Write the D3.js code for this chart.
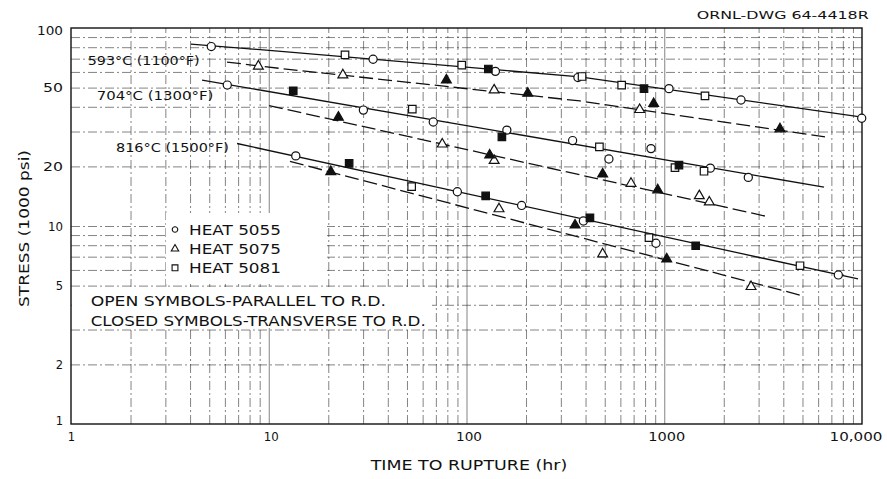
<!DOCTYPE html>
<html><head><meta charset="utf-8">
<script src="https://cdn.jsdelivr.net/npm/d3@7"></script>
<style>body{margin:0;background:#fff}svg{display:block}</style>
</head><body><svg id="c" width="887" height="479"></svg>
<script>
// ---------- data ----------
const xTickValues = [1, 10, 100, 1000, 10000];
const xTickLabels = ["1", "10", "100", "1000", "10,000"];
const yTickValues = [1, 2, 5, 10, 20, 50, 100];
const yTickLabels = ["1", "2", "5", "10", "20", "50", "100"];
const curveLabels = ["593°C (1100°F)", "704°C (1300°F)", "816°C (1500°F)"];
const heatNames = ["HEAT 5055", "HEAT 5075", "HEAT 5081"];
const notes = ["OPEN SYMBOLS-PARALLEL TO R.D.", "CLOSED SYMBOLS-TRANSVERSE TO R.D."];
const drawingId = "ORNL-DWG 64-4418R";
const xTitle = "TIME TO RUPTURE (hr)";
const yTitle = "STRESS (1000 psi)";

// fitted curves [hours, stress ksi]
const line593Solid = [[4.04, 83.0], [12.8, 75.6], [375, 56.6], [10000, 35.5]];
const line593Dashed = [[6.15, 67.3], [11.4, 62.5], [375, 42.8], [6500, 28.2]];
const line704Solid = [[4.60, 54.6], [6424, 15.7]];
const line704Dashed = [[10.03, 40.6], [3270, 11.2]];
const line816Solid = [[6.91, 26.1], [9546, 5.40]];
const line816Dashed = [[12.8, 21.2], [4973, 4.45]];

// data points [hours, stress ksi]
const heat5055Open = [[5.12,80.6],[33.7,69.5],[140,60.4],[366,56.2],[1057,49.4],[2444,43.3],[9966,35.0],
  [6.17,51.5],[30.1,38.5],[67.9,33.5],[160,30.5],[344,27.0],[525,21.8],[857,24.6],[1710,19.6],[2661,17.6],
  [13.7,22.6],[89.9,14.9],[190,12.7],[390,10.6],[908,8.18],[7590,5.66]];
const heat5075Open = [[8.86,64.1],[23.7,57.9],[138,48.6],[751,38.7],[75.4,25.9],[138,21.4],[679,16.4],
  [1504,14.2],[1690,13.2],[146,12.2],[488,7.22],[2747,4.94]];
const heat5075Closed = [[79.1,54.6],[204,46.8],[884,41.5],[3848,30.9],[22.5,35.4],[131,22.8],[488,18.3],
  [927,15.2],[20.6,18.8],[354,10.1],[1029,6.81]];
const heat5081Open = [[24.3,73.1],[94.6,65.0],[384,56.9],[609,51.5],[1607,45.4],[53.2,38.9],[470,25.1],
  [1133,19.7],[1589,18.9],[52.8,15.8],[837,8.73],[4859,6.30]];
const heat5081Closed = [[129,62.1],[790,49.4],[13.3,48.2],[151,28.2],[1187,20.3],[25.5,20.7],[125,14.2],
  [421,11.0],[1442,7.95]];

// ---------- layout ----------
const L = 71, R = 862, T = 28, B = 424;
const svg = d3.select("#c");
const x = d3.scaleLog().domain([1, 10000]).range([L, R]);
const y = d3.scaleLog().domain([1, 100]).range([B, T]);
const FONT = "'DejaVu Sans', sans-serif";

function glyphWidth(s) {
  let w = 0;
  for (const ch of s) w += ch === "1" ? 4 : ch === "," ? 3 : 9;
  return w + 2 * (s.length - 1);
}

// grid
const gridX = [], gridY = [];
for (let k = 0; k < 4; k++) for (let i = 1; i <= 9; i++) { const v = i * Math.pow(10, k); if (v > 1 && v < 10000) gridX.push(v); }
for (let k = 0; k < 2; k++) for (let i = 1; i <= 9; i++) { const v = i * Math.pow(10, k); if (v > 1 && v < 100) gridY.push(v); }

const gx = svg.append("g").attr("transform", `translate(0,${B})`)
  .call(d3.axisBottom(x).tickValues(gridX).tickSize(-(B - T)).tickFormat(""));
gx.select(".domain").remove();
gx.selectAll("line").attr("stroke", "#222").attr("stroke-width", 0.8)
  .attr("stroke-dasharray", (d) => [10,100,1000].includes(d) ? "none" : "9,3,2,3").attr("opacity", 0.7);

const gy = svg.append("g").attr("transform", `translate(${L},0)`)
  .call(d3.axisLeft(y).tickValues(gridY).tickSize(-(R - L)).tickFormat(""));
gy.select(".domain").remove();
gy.selectAll("line").attr("stroke", "#222").attr("stroke-width", 0.8)
  .attr("stroke-dasharray", "9,3,2,3").attr("opacity", 0.7);

// white-out areas for legend and notes
svg.append("rect").attr("x", 166).attr("y", 213).attr("width", 161).attr("height", 71).attr("fill", "#fff");
svg.append("rect").attr("x", 72).attr("y", 287).attr("width", 360).attr("height", 41).attr("fill", "#fff");

// frame
svg.append("rect").attr("x", L).attr("y", T).attr("width", R - L).attr("height", B - T)
  .attr("fill", "none").attr("stroke", "#111").attr("stroke-width", 1.4);

// tick labels via axes
const ax = svg.append("g").attr("transform", `translate(0,${B})`)
  .call(d3.axisBottom(x).tickValues(xTickValues).tickSize(0).tickPadding(0)
    .tickFormat((d, i) => xTickLabels[i]));
ax.select(".domain").remove();
ax.selectAll("text").attr("font-family", FONT).attr("font-size", 11.5).attr("fill", "#111")
  .attr("y", 16.5).attr("dy", 0)
  .attr("textLength", (d, i) => xTickLabels[i].length > 1 ? glyphWidth(xTickLabels[i]) : null)
  .attr("lengthAdjust", "spacingAndGlyphs")
  .attr("text-anchor", (d) => d === 10000 ? "end" : "middle")
  .attr("x", (d) => d === 10000 ? 882 - x(10000) : (d === 1 ? 0 : 2));

const ay = svg.append("g").attr("transform", `translate(${L},0)`)
  .call(d3.axisLeft(y).tickValues(yTickValues).tickSize(0).tickPadding(8)
    .tickFormat((d, i) => yTickLabels[i]));
ay.select(".domain").remove();
ay.selectAll("text").attr("font-family", FONT).attr("font-size", 11.5).attr("fill", "#111")
  .attr("textLength", (d, i) => yTickLabels[i].length > 1 ? glyphWidth(yTickLabels[i]) : null)
  .attr("lengthAdjust", "spacingAndGlyphs")
  .attr("dy", (d) => d === 100 ? "0.55em" : d === 1 ? "0.05em" : "0.36em");

// axis titles
svg.append("text").attr("x", 370.7).attr("y", 470).attr("font-family", FONT).attr("font-size", 13.5)
  .attr("fill", "#111").attr("textLength", 196.6).attr("lengthAdjust", "spacingAndGlyphs").text(xTitle);
svg.append("text").attr("transform", "translate(28.5,307) rotate(-90)").attr("font-family", FONT)
  .attr("font-size", 13.5).attr("fill", "#111").attr("textLength", 157).attr("lengthAdjust", "spacingAndGlyphs").text(yTitle);

// drawing id
svg.append("text").attr("x", 696.7).attr("y", 19.3).attr("font-family", FONT).attr("font-size", 10.5)
  .attr("fill", "#111").attr("textLength", 172).attr("lengthAdjust", "spacingAndGlyphs").text(drawingId);

// curves
const lineGen = d3.line().x((d) => x(d[0])).y((d) => y(d[1]));
const curves = [
  [line593Solid, false], [line593Dashed, true],
  [line704Solid, false], [line704Dashed, true],
  [line816Solid, false], [line816Dashed, true]
];
svg.append("g").selectAll("path").data(curves).join("path")
  .attr("d", (d) => lineGen(d[0])).attr("fill", "none").attr("stroke", "#111")
  .attr("stroke-width", 1.3).attr("stroke-dasharray", (d) => d[1] ? "14,5" : null);

// curve labels
const labelPos = [[87.7, 65, 112], [96.7, 100, 116.6], [116, 151.7, 113]];
svg.append("g").selectAll("text").data(curveLabels).join("text")
  .attr("x", (d, i) => labelPos[i][0]).attr("y", (d, i) => labelPos[i][1])
  .attr("textLength", (d, i) => labelPos[i][2]).attr("lengthAdjust", "spacingAndGlyphs")
  .attr("font-family", FONT).attr("font-size", 12.5).attr("fill", "#111").text((d) => d);

// markers
const sym = {
  circle: d3.symbol().type(d3.symbolCircle).size(52),
  triangle: d3.symbol().type(d3.symbolTriangle).size(42),
  square: d3.symbol().type(d3.symbolSquare).size(56)
};
const markerSets = [
  [heat5055Open, "circle", false],
  [heat5075Open, "triangle", false],
  [heat5075Closed, "triangle", true],
  [heat5081Open, "square", false],
  [heat5081Closed, "square", true]
];
markerSets.forEach(([pts, shape, closed]) => {
  svg.append("g").selectAll("path").data(pts).join("path")
    .attr("transform", (d) => `translate(${x(d[0])},${y(d[1])})`)
    .attr("d", sym[shape]())
    .attr("fill", closed ? "#111" : "#fff").attr("stroke", "#111").attr("stroke-width", 1.2);
});

// legend
const legSym = [d3.symbol().type(d3.symbolCircle).size(24), d3.symbol().type(d3.symbolTriangle).size(24), d3.symbol().type(d3.symbolSquare).size(34)];
const legY = [235, 254.3, 273.3];
const lg = svg.append("g");
heatNames.forEach((name, i) => {
  lg.append("path").attr("transform", `translate(175,${legY[i] - 5.5})`).attr("d", legSym[i]())
    .attr("fill", "#fff").attr("stroke", "#111").attr("stroke-width", 1.1);
  lg.append("text").attr("x", 189).attr("y", legY[i]).attr("font-family", FONT).attr("font-size", 14.5)
    .attr("fill", "#111").attr("textLength", 92).attr("lengthAdjust", "spacingAndGlyphs").text(name);
});

// notes
const noteY = [305.5, 325.5], noteW = [295.3, 335];
notes.forEach((n, i) => {
  svg.append("text").attr("x", 90.7).attr("y", noteY[i]).attr("font-family", FONT).attr("font-size", 14.5)
    .attr("fill", "#111").attr("textLength", noteW[i]).attr("lengthAdjust", "spacingAndGlyphs").text(n);
});
</script>
</body></html>
